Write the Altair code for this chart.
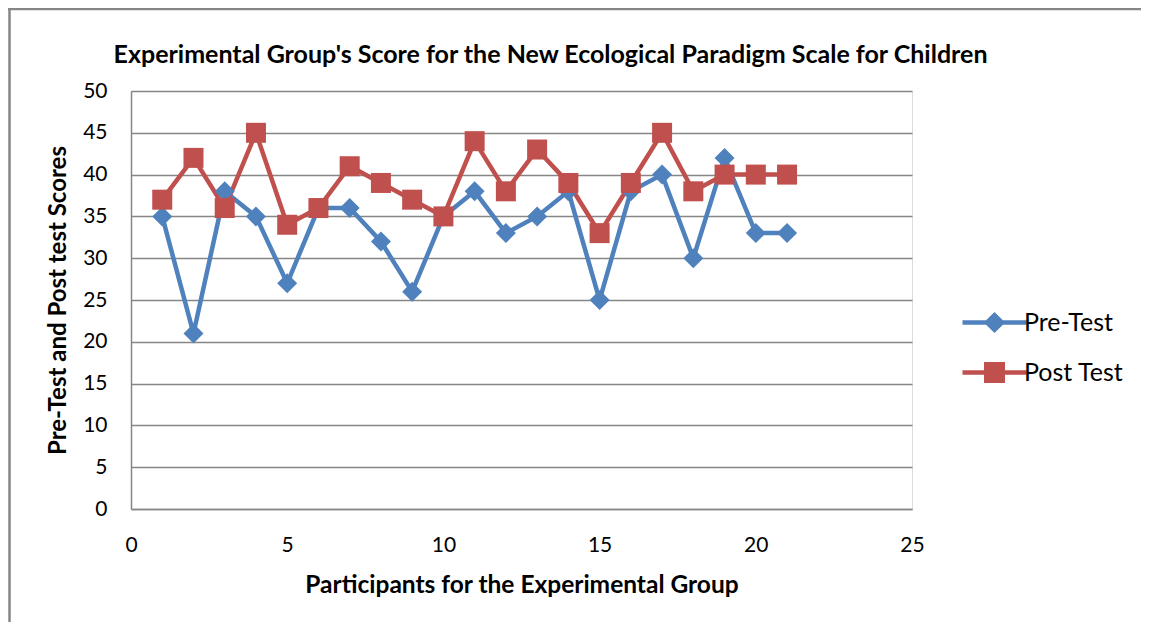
import altair as alt
import pandas as pd

participants = list(range(1, 22))
pre_test = [35, 21, 38, 35, 27, 36, 36, 32, 26, 35, 38, 33, 35, 38, 25, 38, 40, 30, 42, 33, 33]
post_test = [37, 42, 36, 45, 34, 36, 41, 39, 37, 35, 44, 38, 43, 39, 33, 39, 45, 38, 40, 40, 40]
series_names = ["Pre-Test", "Post Test"]
colors = ["#4F81BD", "#C0504D"]
x_ticks = [0, 5, 10, 15, 20, 25]
y_ticks = [0, 5, 10, 15, 20, 25, 30, 35, 40, 45, 50]

rows = []
for p, a, b in zip(participants, pre_test, post_test):
    rows.append({"participant": p, "score": a, "series": series_names[0]})
    rows.append({"participant": p, "score": b, "series": series_names[1]})
df = pd.DataFrame(rows)

FONT = "Lato"
W, H = 781, 418

x_enc = alt.X("participant:Q",
              scale=alt.Scale(domain=[0, 25], nice=False, zero=True),
              axis=alt.Axis(values=x_ticks, title="Participants for the Experimental Group",
                            grid=False, ticks=False, labelPadding=25, titlePadding=18,
                            labelFlush=False,
                            domainColor="#868686", domainWidth=1.5,
                            labelFontSize=21, titleFontSize=24.5, titleFontWeight="bold",
                            labelColor="#000000", titleColor="#000000",
                            labelFont=FONT, titleFont=FONT))
y_enc = alt.Y("score:Q",
              scale=alt.Scale(domain=[0, 50], nice=False),
              axis=alt.Axis(values=y_ticks, title="Pre-Test and Post test Scores",
                            grid=True, gridColor="#868686", gridWidth=1.3,
                            ticks=False, labelPadding=24, titlePadding=12,
                            labelFlush=False,
                            domainColor="#868686", domainWidth=1.5,
                            labelFontSize=21, titleFontSize=24, titleFontWeight="bold",
                            labelColor="#000000", titleColor="#000000",
                            labelFont=FONT, titleFont=FONT))

color_scale = alt.Scale(domain=series_names, range=colors)
shape_scale = alt.Scale(domain=series_names, range=["diamond", "square"])
legend_shape_scale = alt.Scale(domain=series_names, range=[
    "M-1.83,-0.13H-0.48L0,-0.6L0.48,-0.13H1.83V0.13H0.48L0,0.6L-0.48,0.13H-1.83Z",
    "M-1.83,-0.13H-0.6V-0.6H0.6V-0.13H1.83V0.13H0.6V0.6H-0.6V0.13H-1.83Z",
])

legend = alt.Legend(title=None, orient="none", legendX=846, legendY=214,
                    labelFontSize=25, labelFont=FONT, labelColor="#000000",
                    symbolSize=1225, rowPadding=19, labelOffset=12,
                    symbolStrokeWidth=0, symbolOpacity=1)

lines = alt.Chart(df).mark_line(strokeWidth=4.5).encode(
    x=x_enc, y=y_enc,
    color=alt.Color("series:N", scale=color_scale, sort=series_names, legend=None),
    detail="series:N",
)
points = alt.Chart(df).mark_point(filled=True, size=400, opacity=1).encode(
    x="participant:Q", y="score:Q",
    color=alt.Color("series:N", scale=color_scale, sort=series_names, legend=None),
    shape=alt.Shape("series:N", scale=shape_scale, sort=series_names, legend=None),
)
legend_layer = alt.Chart(df).mark_point(filled=True, size=1, opacity=0).encode(
    x="participant:Q", y="score:Q",
    color=alt.Color("series:N", scale=color_scale, sort=series_names, legend=legend),
    shape=alt.Shape("series:N", scale=legend_shape_scale, sort=series_names, legend=legend),
)

# outer chart-area frame (left and top edges visible in the reference)
frame_left = alt.Chart().mark_rule(color="#868686", strokeWidth=2.5).encode(
    x=alt.value(-121.5), y=alt.value(-83), y2=alt.value(H + 113)
)
frame_top = alt.Chart().mark_rule(color="#868686", strokeWidth=2.5).encode(
    x=alt.value(-123), x2=alt.value(W + 229), y=alt.value(-82)
)

chart = alt.layer(frame_left, frame_top, lines, points, legend_layer).resolve_scale(
    shape="independent", color="independent"
).properties(
    width=W, height=H,
    title=alt.TitleParams("Experimental Group's Score for the New Ecological Paradigm Scale for Children",
                          font=FONT, fontSize=25, fontWeight="bold", color="#000000",
                          anchor="middle", dx=29, offset=-61, frame="group"),
    autosize=alt.AutoSizeParams(type="none"),
    padding={"left": 123, "top": 83, "right": 229, "bottom": 113},
).configure_view(stroke=None).configure(background="#ffffff")

chart.save("out.html", embed_options={"renderer": "svg", "actions": False})
